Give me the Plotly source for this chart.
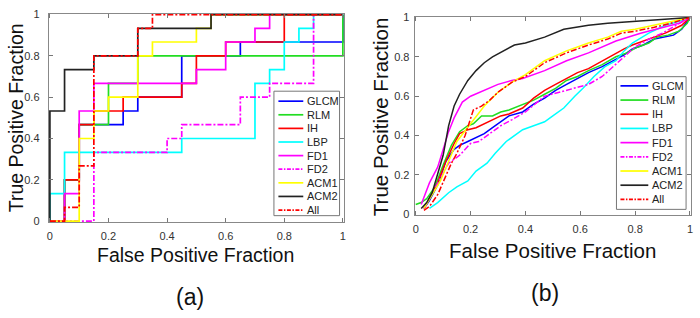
import plotly.graph_objects as go

W, H = 700, 318
FONT = "Liberation Sans, Arial, Helvetica, sans-serif"

names = ["GLCM", "RLM", "IH", "LBP", "FD1", "FD2", "ACM1", "ACM2", "All"]
colors = ["#0000ff", "#22dd22", "#ff0000", "#00ffff", "#ff00ff", "#ff00ff", "#ffff00", "#222222", "#ff0000"]
dashes = ["solid", "solid", "solid", "solid", "solid", "dashdot", "solid", "solid", "dashdot"]

# ---- panel (a): step ROC points (FPR, TPR) ----
a_fpr = {
    "GLCM": [0, 0.05, 0.1, 0.25, 0.3, 0.45, 0.65, 1.0, 1.0],
    "RLM":  [0, 0.05, 0.1, 0.2, 0.3, 1.0, 1.0],
    "IH":   [0, 0.05, 0.1, 0.15, 0.25, 0.45, 0.5, 0.6, 0.8, 1.0],
    "LBP":  [0, 0, 0.05, 0.45, 0.7, 0.75, 0.8, 0.85, 0.9, 1.0],
    "FD1":  [0, 0.05, 0.1, 0.15, 0.5, 0.6, 0.7, 0.75, 1.0],
    "FD2":  [0, 0.15, 0.4, 0.45, 0.65, 0.75, 0.9, 1.0],
    "ACM1": [0, 0.1, 0.15, 0.2, 0.3, 0.35, 0.5, 0.55, 1.0],
    "ACM2": [0, 0, 0.05, 0.15, 0.3, 0.55, 1.0],
    "All":  [0, 0.05, 0.1, 0.15, 0.3, 0.35, 1.0],
}
a_tpr = {
    "GLCM": [0, 0.2, 0.467, 0.533, 0.6, 0.8, 0.867, 0.867, 1.0],
    "RLM":  [0, 0.2, 0.467, 0.667, 0.8, 0.8, 1.0],
    "IH":   [0, 0.2, 0.467, 0.533, 0.6, 0.667, 0.8, 0.867, 1.0, 1.0],
    "LBP":  [0, 0.133, 0.333, 0.4, 0.667, 0.733, 0.867, 0.933, 1.0, 1.0],
    "FD1":  [0, 0.133, 0.533, 0.667, 0.733, 0.867, 0.933, 1.0, 1.0],
    "FD2":  [0, 0.333, 0.4, 0.467, 0.6, 0.667, 1.0, 1.0],
    "ACM1": [0, 0.4, 0.533, 0.6, 0.8, 0.867, 0.933, 1.0, 1.0],
    "ACM2": [0, 0.533, 0.733, 0.8, 0.933, 1.0, 1.0],
    "All":  [0, 0.067, 0.267, 0.8, 0.933, 1.0, 1.0],
}

# ---- panel (b): smooth ROC points ----
b_fpr = {
    "GLCM": [0.03, 0.05, 0.08, 0.11, 0.14, 0.16, 0.19, 0.22, 0.25, 0.28, 0.31, 0.34, 0.39, 0.43, 0.47, 0.51, 0.55, 0.59, 0.63, 0.68, 0.72, 0.76, 0.79, 0.83, 0.87, 0.91, 0.94, 0.97, 1.0],
    "RLM":  [0.0, 0.02, 0.04, 0.07, 0.1, 0.13, 0.16, 0.19, 0.21, 0.24, 0.28, 0.31, 0.34, 0.39, 0.43, 0.47, 0.51, 0.55, 0.59, 0.63, 0.68, 0.73, 0.77, 0.81, 0.85, 0.88, 0.92, 0.96, 0.99, 1.0],
    "IH":   [0.03, 0.05, 0.08, 0.11, 0.14, 0.16, 0.19, 0.22, 0.25, 0.28, 0.31, 0.34, 0.39, 0.43, 0.47, 0.51, 0.55, 0.59, 0.63, 0.68, 0.72, 0.76, 0.79, 0.83, 0.87, 0.91, 0.94, 0.97, 1.0],
    "LBP":  [0.05, 0.08, 0.12, 0.15, 0.19, 0.22, 0.26, 0.29, 0.33, 0.39, 0.43, 0.47, 0.5, 0.54, 0.58, 0.61, 0.65, 0.69, 0.73, 0.76, 0.79, 0.85, 0.91, 0.96, 1.0],
    "FD1":  [0.02, 0.05, 0.08, 0.1, 0.12, 0.14, 0.17, 0.2, 0.25, 0.3, 0.35, 0.39, 0.47, 0.55, 0.63, 0.73, 0.82, 0.91, 0.96, 1.0],
    "FD2":  [0.03, 0.05, 0.08, 0.12, 0.16, 0.18, 0.2, 0.23, 0.27, 0.31, 0.35, 0.4, 0.47, 0.55, 0.63, 0.68, 0.72, 0.76, 0.8, 0.85, 0.9, 0.95, 1.0],
    "ACM1": [0.03, 0.06, 0.09, 0.12, 0.15, 0.2, 0.25, 0.3, 0.35, 0.4, 0.47, 0.55, 0.63, 0.7, 0.75, 0.8, 0.87, 0.93, 1.0],
    "ACM2": [0.02, 0.04, 0.06, 0.08, 0.1, 0.12, 0.14, 0.16, 0.19, 0.22, 0.25, 0.28, 0.32, 0.36, 0.4, 0.47, 0.54, 0.63, 0.7, 0.79, 0.9, 1.0],
    "All":  [0.03, 0.05, 0.08, 0.11, 0.13, 0.15, 0.18, 0.21, 0.24, 0.27, 0.3, 0.35, 0.4, 0.47, 0.55, 0.63, 0.7, 0.75, 0.8, 0.87, 0.93, 1.0],
}
b_tpr = {
    "GLCM": [0.03, 0.07, 0.15, 0.27, 0.33, 0.35, 0.37, 0.39, 0.41, 0.44, 0.47, 0.5, 0.52, 0.56, 0.59, 0.63, 0.66, 0.69, 0.72, 0.75, 0.78, 0.81, 0.84, 0.86, 0.89, 0.9, 0.91, 0.94, 1.0],
    "RLM":  [0.05, 0.06, 0.08, 0.14, 0.25, 0.35, 0.42, 0.45, 0.46, 0.5, 0.5, 0.52, 0.53, 0.56, 0.58, 0.61, 0.64, 0.68, 0.7, 0.73, 0.76, 0.8, 0.82, 0.85, 0.87, 0.9, 0.91, 0.93, 0.97, 1.0],
    "IH":   [0.03, 0.08, 0.16, 0.27, 0.36, 0.41, 0.43, 0.44, 0.46, 0.48, 0.5, 0.51, 0.54, 0.59, 0.63, 0.66, 0.69, 0.72, 0.74, 0.78, 0.81, 0.84, 0.86, 0.88, 0.9, 0.92, 0.94, 0.96, 1.0],
    "LBP":  [0.03, 0.06, 0.11, 0.14, 0.17, 0.22, 0.26, 0.31, 0.37, 0.43, 0.45, 0.47, 0.5, 0.54, 0.6, 0.64, 0.7, 0.75, 0.78, 0.83, 0.87, 0.92, 0.96, 0.98, 1.0],
    "FD1":  [0.05, 0.16, 0.24, 0.33, 0.42, 0.49, 0.57, 0.6, 0.63, 0.66, 0.68, 0.69, 0.73, 0.78, 0.82, 0.88, 0.92, 0.95, 0.97, 1.0],
    "FD2":  [0.03, 0.08, 0.16, 0.26, 0.3, 0.33, 0.36, 0.37, 0.41, 0.45, 0.48, 0.52, 0.6, 0.63, 0.66, 0.7, 0.75, 0.8, 0.85, 0.89, 0.92, 0.96, 1.0],
    "ACM1": [0.03, 0.1, 0.17, 0.27, 0.37, 0.46, 0.55, 0.62, 0.67, 0.71, 0.78, 0.83, 0.87, 0.9, 0.93, 0.94, 0.96, 0.98, 1.0],
    "ACM2": [0.03, 0.06, 0.11, 0.2, 0.3, 0.45, 0.55, 0.61, 0.68, 0.73, 0.77, 0.8, 0.83, 0.86, 0.87, 0.9, 0.94, 0.96, 0.97, 0.98, 0.99, 1.0],
    "All":  [0.02, 0.04, 0.1, 0.2, 0.26, 0.31, 0.4, 0.53, 0.55, 0.58, 0.62, 0.67, 0.7, 0.77, 0.82, 0.86, 0.89, 0.92, 0.93, 0.95, 0.97, 1.0],
}

tick_vals = [0, 0.2, 0.4, 0.6, 0.8, 1]
tick_text = ["0", "0.2", "0.4", "0.6", "0.8", "1"]
x_title = "False Positive Fraction"
y_title = "True Positive Fraction"
panel_labels = ["(a)", "(b)"]


def px(x):
    return x / W


def py(y):
    return 1 - y / H


# plot areas in pixels: (left, right, top, bottom)
areas = [(47, 344, 9, 224), (415, 693, 12, 217)]

fig = go.Figure()
dash_map = {"solid": "solid", "dashdot": "6px,2px,2px,2px"}

for i, n in enumerate(names):
    fig.add_trace(go.Scatter(
        x=a_fpr[n], y=a_tpr[n], mode="lines", line_shape="hv", name=n,
        line=dict(color=colors[i], width=1.7, dash=dash_map[dashes[i]]),
        xaxis="x", yaxis="y", showlegend=False))
for i, n in enumerate(names):
    fig.add_trace(go.Scatter(
        x=b_fpr[n], y=b_tpr[n], mode="lines", name=n,
        line=dict(color=colors[i], width=1.5, dash=dash_map[dashes[i]]),
        xaxis="x2", yaxis="y2", showlegend=False))

axis_common = dict(
    range=[-0.004, 1.004], tickvals=tick_vals, ticktext=tick_text,
    ticks="inside", ticklen=4, tickcolor="#777", tickwidth=1,
    showline=True, linecolor="#888", linewidth=1, mirror="ticks",
    showgrid=False, zeroline=False, ticklabeloverflow="allow",
    tickfont=dict(family=FONT, size=11, color="#333"),
)

layout = dict(
    width=W, height=H, margin=dict(l=0, r=0, t=0, b=0),
    paper_bgcolor="white", plot_bgcolor="white", autosize=False,
)
for k, (l, r, t, b) in enumerate(areas):
    sfx = "" if k == 0 else "2"
    layout["xaxis" + sfx] = dict(axis_common, domain=[px(l), px(r)],
                                 anchor="y" + sfx, ticklabelstandoff=4)
    layout["yaxis" + sfx] = dict(axis_common, domain=[py(b), py(t)],
                                 anchor="x" + sfx,
                                 ticklabelstandoff=(6 if k == 0 else 2))
fig.update_layout(**layout)

annotations = []
shapes = []

# axis titles and panel labels
title_pos = [
    dict(xt=(195, 258, 19.5), yt=(14, 116, 19.5), lab=(189, 301, 23)),
    dict(xt=(554, 253, 20.5), yt=(381, 115, 20.5), lab=(546, 297, 23)),
]
for k, tp in enumerate(title_pos):
    annotations.append(dict(text=x_title, x=px(tp["xt"][0]), y=py(tp["xt"][1]),
                            xref="paper", yref="paper", showarrow=False,
                            xanchor="center", yanchor="middle",
                            font=dict(family=FONT, size=tp["xt"][2], color="#111")))
    annotations.append(dict(text=y_title, x=px(tp["yt"][0]), y=py(tp["yt"][1]),
                            xref="paper", yref="paper", showarrow=False, textangle=-90,
                            xanchor="center", yanchor="middle",
                            font=dict(family=FONT, size=tp["yt"][2], color="#111")))
    annotations.append(dict(text=panel_labels[k], x=px(tp["lab"][0]), y=py(tp["lab"][1]),
                            xref="paper", yref="paper", showarrow=False,
                            xanchor="center", yanchor="middle",
                            font=dict(family=FONT, size=tp["lab"][2], color="#111")))

# custom legends (box in pixels, first-entry y, spacing, sample line x-range, text x)
legends = [
    dict(box=(273.5, 339.5, 89, 217.5), y0=99.3, dy=14.05, lx=(278, 303), tx=305),
    dict(box=(618, 688, 74, 211), y0=83.5, dy=14.65, lx=(622, 650), tx=652),
]
for lg in legends:
    l, r, t, b = lg["box"]
    shapes.append(dict(type="rect", xref="paper", yref="paper",
                       x0=px(l), x1=px(r), y0=py(b), y1=py(t),
                       line=dict(color="#777", width=1), fillcolor="white", layer="above"))
    for i, n in enumerate(names):
        yy = lg["y0"] + i * lg["dy"]
        shapes.append(dict(type="line", xref="paper", yref="paper",
                           x0=px(lg["lx"][0]), x1=px(lg["lx"][1]), y0=py(yy), y1=py(yy),
                           line=dict(color=colors[i], width=1.7,
                                     dash=("4px,1.5px,1.5px,1.5px" if dashes[i] == "dashdot" else "solid")),
                           layer="above"))
        annotations.append(dict(text=n, x=px(lg["tx"]), y=py(yy), xref="paper", yref="paper",
                                showarrow=False, xanchor="left", yanchor="middle",
                                font=dict(family=FONT, size=11, color="#222")))

fig.update_layout(annotations=annotations, shapes=shapes)
fig.write_html(
    "out.html",
    config={"displayModeBar": False, "staticPlot": True},
    post_script="document.body.style.margin='0';document.body.style.overflow='hidden';",
)
